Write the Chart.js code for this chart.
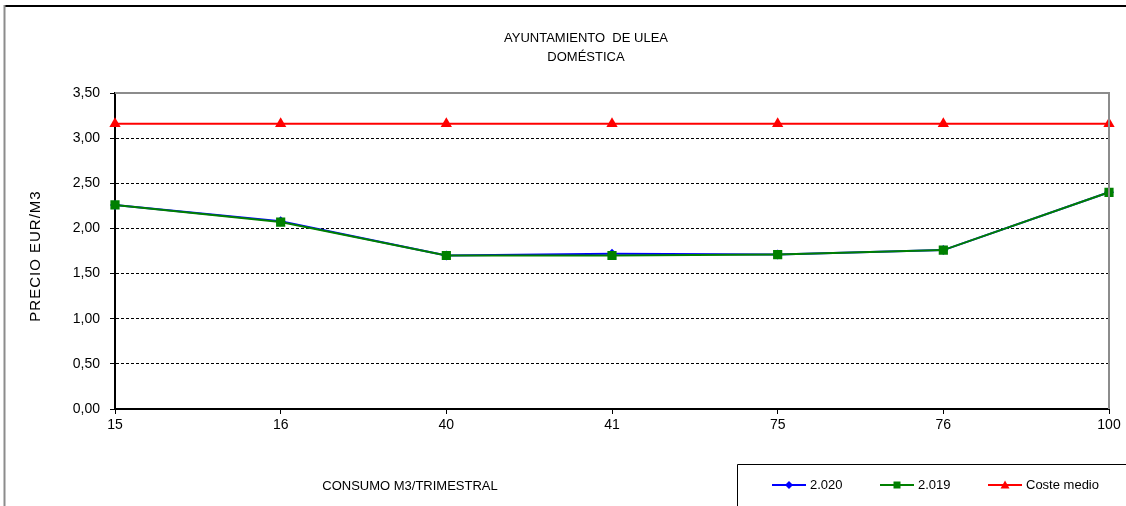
<!DOCTYPE html>
<html>
<head>
<meta charset="utf-8">
<script src="https://cdn.jsdelivr.net/npm/chart.js@4/dist/chart.umd.min.js"></script>
<style>
  html, body { margin: 0; padding: 0; background: #ffffff; }
  #wrap { width: 1126px; height: 506px; position: relative; }
</style>
</head>
<body>
<div id="wrap"><canvas id="c" width="1126" height="506"></canvas></div>
<script>
// ---- Data ----
const categories = ['15', '16', '40', '41', '75', '76', '100'];
const values2020 = [2.26, 2.08, 1.70, 1.72, 1.71, 1.76, 2.40];
const values2019 = [2.26, 2.07, 1.70, 1.70, 1.71, 1.76, 2.40];
const costeMedio = [3.16, 3.16, 3.16, 3.16, 3.16, 3.16, 3.16];
const seriesNames = ['2.020', '2.019', 'Coste medio'];
const titleLines = ['AYUNTAMIENTO  DE ULEA', 'DOMÉSTICA'];
const xTitle = 'CONSUMO M3/TRIMESTRAL';
const yTitle = 'PRECIO EUR/M3';
const yTicks = [0, 0.5, 1, 1.5, 2, 2.5, 3, 3.5];

const FONT = '"Liberation Sans", Arial, sans-serif';

function drawMarker(ctx, style, x, y, r, color) {
  ctx.save();
  ctx.fillStyle = color;
  ctx.beginPath();
  if (style === 'rect') {
    ctx.rect(x - r, y - r, 2 * r, 2 * r);
  } else if (style === 'rectRot') {
    ctx.moveTo(x, y - r); ctx.lineTo(x + r, y); ctx.lineTo(x, y + r); ctx.lineTo(x - r, y); ctx.closePath();
  } else {
    ctx.moveTo(x, y - r); ctx.lineTo(x + r, y + r * 0.8); ctx.lineTo(x - r, y + r * 0.8); ctx.closePath();
  }
  ctx.fill();
  ctx.restore();
}

const decor = {
  id: 'decor',
  afterDraw(chart) {
    const ctx = chart.ctx;
    const a = chart.chartArea;
    ctx.save();
    // outer border
    ctx.strokeStyle = '#000'; ctx.lineWidth = 2;
    ctx.beginPath(); ctx.moveTo(4, 6); ctx.lineTo(1126, 6); ctx.stroke();
    ctx.strokeStyle = '#8c8c8c'; ctx.lineWidth = 2;
    ctx.beginPath(); ctx.moveTo(4.5, 5); ctx.lineTo(4.5, 506); ctx.stroke();
    // plot frame top & right
    ctx.strokeStyle = '#8c8c8c'; ctx.lineWidth = 2;
    ctx.beginPath(); ctx.moveTo(a.left, a.top); ctx.lineTo(a.right, a.top); ctx.lineTo(a.right, a.bottom); ctx.stroke();

    // title
    ctx.fillStyle = '#000';
    ctx.font = '13px ' + FONT;
    ctx.textAlign = 'center'; ctx.textBaseline = 'middle';
    ctx.fillText(titleLines[0], 586, 38);
    ctx.fillText(titleLines[1], 586, 57);

    // x title
    ctx.font = '13px ' + FONT;
    ctx.fillText(xTitle, 410, 486);

    // y title
    ctx.save();
    ctx.translate(36, 256);
    ctx.rotate(-Math.PI / 2);
    ctx.font = '15px ' + FONT;
    try { ctx.letterSpacing = '1px'; } catch (e) {}
    ctx.textAlign = 'center'; ctx.textBaseline = 'middle';
    ctx.fillText(yTitle, 0, 0);
    ctx.restore();

    // legend box
    ctx.strokeStyle = '#000'; ctx.lineWidth = 1;
    ctx.beginPath(); ctx.moveTo(737.5, 506); ctx.lineTo(737.5, 464.5); ctx.lineTo(1126, 464.5); ctx.stroke();
    const items = [
      { x: 772, color: '#0000ff', style: 'rectRot', r: 4 },
      { x: 880, color: '#008000', style: 'rect', r: 3.5 },
      { x: 988, color: '#ff0000', style: 'triangle', r: 4.5 }
    ];
    const ly = 485;
    items.forEach((it, i) => {
      ctx.strokeStyle = it.color; ctx.lineWidth = 2;
      ctx.beginPath(); ctx.moveTo(it.x, ly); ctx.lineTo(it.x + 34, ly); ctx.stroke();
      drawMarker(ctx, it.style, it.x + 17, ly, it.r, it.color);
      ctx.fillStyle = '#000';
      ctx.font = '13px ' + FONT;
      ctx.textAlign = 'left'; ctx.textBaseline = 'middle';
      ctx.fillText(seriesNames[i], it.x + 38, ly);
    });
    ctx.restore();
  }
};

new Chart(document.getElementById('c'), {
  type: 'line',
  data: {
    labels: categories,
    datasets: [
      {
        label: seriesNames[0], data: values2020, order: 2,
        borderColor: '#0000ff', backgroundColor: '#0000ff', borderWidth: 2,
        pointStyle: 'rectRot', pointRadius: 5, pointBorderWidth: 0, tension: 0
      },
      {
        label: seriesNames[1], data: values2019, order: 1,
        borderColor: '#008000', backgroundColor: '#008000', borderWidth: 2,
        pointStyle: 'rect', pointRadius: 6.5, pointBorderWidth: 0, tension: 0
      },
      {
        label: seriesNames[2], data: costeMedio, order: 0,
        borderColor: '#ff0000', backgroundColor: '#ff0000', borderWidth: 2,
        pointStyle: 'triangle', pointRadius: 6.5, pointBorderWidth: 0, tension: 0
      }
    ]
  },
  options: {
    responsive: false,
    animation: false,
    devicePixelRatio: 1,
    layout: { padding: { top: 93, right: 17, left: 0, bottom: 0 } },
    plugins: {
      legend: { display: false },
      title: { display: false },
      tooltip: { enabled: false }
    },
    scales: {
      x: {
        type: 'category',
        offset: false,
        afterFit: (s) => { s.height = 97; },
        grid: { drawOnChartArea: false, drawTicks: true, tickLength: 5, tickColor: '#000', tickWidth: 1 },
        border: { display: true, color: '#000', width: 2 },
        ticks: { color: '#000', font: { family: FONT, size: 14 }, padding: 3, maxRotation: 0, autoSkip: false }
      },
      y: {
        min: 0, max: 3.5,
        afterFit: (s) => { s.width = 115; },
        afterBuildTicks: (s) => { s.ticks = yTicks.map(v => ({ value: v })); },
        grid: {
          color: (c) => (c.tick && (c.tick.value === 0 || c.tick.value === 3.5)) ? 'rgba(0,0,0,0)' : '#000',
          lineWidth: 1, drawTicks: true, tickLength: 5, tickColor: '#000', tickWidth: 1
        },
        border: { display: true, color: '#000', width: 2, dash: [3, 2] },
        ticks: {
          color: '#000', font: { family: FONT, size: 14 }, padding: 10,
          callback: (v) => Number(v).toFixed(2).replace('.', ',')
        }
      }
    }
  },
  plugins: [decor]
});
</script>
</body>
</html>
